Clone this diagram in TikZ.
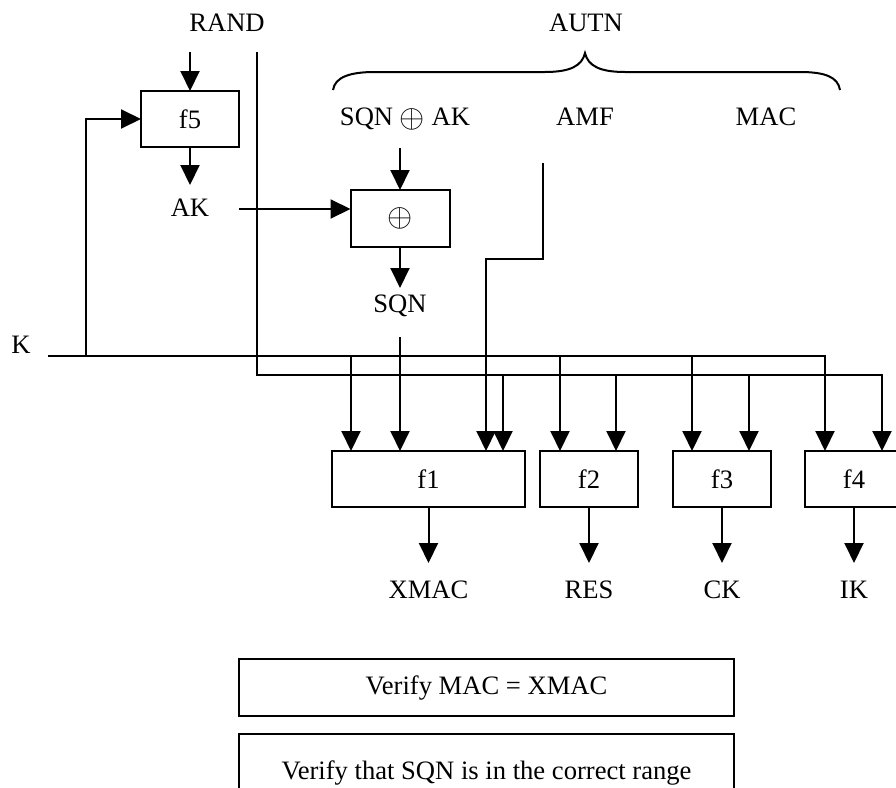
\documentclass[tikz,border=0pt]{standalone}
\usepackage{graphicx}
\usepackage{fontspec}
\setmainfont{Liberation Serif}
\usetikzlibrary{arrows.meta,calc}
\newcommand{\xorsym}{\raisebox{-0.08em}{\scalebox{1.3}{$\oplus$}}}
\begin{document}
\begin{tikzpicture}[x=1pt,y=-1pt,
  line width=2pt,
  lbl/.style={font=\fontsize{26.6}{30}\selectfont, inner sep=0pt, outer sep=0pt},
  fbox/.style={draw, lbl, minimum height=56pt},
  arr/.style={-{Triangle[length=20pt,width=19pt]}},
]
\useasboundingbox (0,0) rectangle (896,787);

% labels
\node[lbl] (rand) at (227,23) {RAND};
\node[lbl] (autn) at (586,23) {AUTN};
\node[lbl] (sqnak) at (405,119) {SQN \xorsym{} AK};
\node[lbl] (amf) at (585,117) {AMF};
\node[lbl] (mac) at (766,117) {MAC};
\node[lbl] (ak) at (190,208) {AK};
\node[lbl] (sqn) at (400,306) {SQN};
\node[lbl] (k) at (21,345) {K};

% boxes
\node[fbox, minimum width=98pt] (f5) at (190,119) {f5};
\node[fbox, minimum width=99pt, minimum height=57pt] (xor) at (400,218.5) {\xorsym};
\node[fbox, minimum width=193pt] (f1) at (428.5,479) {f1};
\node[fbox, minimum width=98pt] (f2) at (589,479) {f2};
\node[fbox, minimum width=98pt] (f3) at (722,479) {f3};
\node[fbox, minimum width=98pt] (f4) at (854,479) {f4};

\node[lbl] (xmac) at (428.5,590) {XMAC};
\node[lbl] (res) at (589,590) {RES};
\node[lbl] (ck) at (722,590) {CK};
\node[lbl] (ik) at (854,590) {IK};

\node[fbox, minimum width=495pt, minimum height=57pt] (v1) at (486.5,687.5) {Verify MAC = XMAC};
\node[fbox, minimum width=495pt, minimum height=78pt] (v2) at (486.5,773) {Verify that SQN is in the correct range};

% brace over AUTN fields
\draw (333,90) .. controls (335,77) and (350,72) .. (375,72) -- (545,72)
  .. controls (570,72) and (582,66) .. (585,53)
  .. controls (588,66) and (600,72) .. (625,72) -- (800,72)
  .. controls (825,72) and (838,77) .. (840,90);

% coordinates
\coordinate (randf5) at (190,52);
\coordinate (randtop) at (257,52);
\coordinate (rcorner) at (257,375);
\coordinate (kstart) at (48,356);
\coordinate (kf5) at (86,356);
\coordinate (akout) at (190,185);
\coordinate (akin) at (239,209);
\coordinate (sqnakout) at (400,148);
\coordinate (sqnout) at (400,288);
\coordinate (sqnin) at (400,337);
\coordinate (amftop) at (543,163);
\coordinate (amfcorner) at (543,259);
\coordinate (f1k) at ($(f1.north west)+(19,0)$);
\coordinate (f1s) at ($(f1.north west)+(68,0)$);
\coordinate (f1a) at ($(f1.north west)+(154,0)$);
\coordinate (f1r) at ($(f1.north west)+(171,0)$);
\coordinate (f2k) at ($(f2.north west)+(20,0)$);
\coordinate (f2r) at ($(f2.north west)+(76,0)$);
\coordinate (f3k) at ($(f3.north west)+(19,0)$);
\coordinate (f3r) at ($(f3.north west)+(76,0)$);
\coordinate (f4k) at ($(f4.north west)+(20,0)$);
\coordinate (f4r) at ($(f4.north west)+(77,0)$);

% connectors
\draw[arr] (randf5) -- (f5.north);
\draw[arr] (randtop) -- (rcorner) -| (f4r);
\foreach \t in {f1r,f2r,f3r} \draw[arr] (\t |- rcorner) -- (\t);
\draw[arr] (kstart) -| (f4k);
\foreach \t in {f1k,f2k,f3k} \draw[arr] (\t |- kstart) -- (\t);
\draw[arr] (kf5) |- (f5.west);
\draw[arr] (f5.south) -- (akout);
\draw[arr] (akin) -- (xor.west |- akin);
\draw[arr] (sqnakout) -- (xor.north);
\draw[arr] (xor.south) -- (sqnout);
\draw[arr] (sqnin) -- (f1s);
\draw[arr] (amftop) -- (amfcorner) -| (f1a);
\foreach \b in {f1,f2,f3,f4} \draw[arr] (\b.south) -- ($(\b.south)+(0,56)$);
\end{tikzpicture}
\end{document}
